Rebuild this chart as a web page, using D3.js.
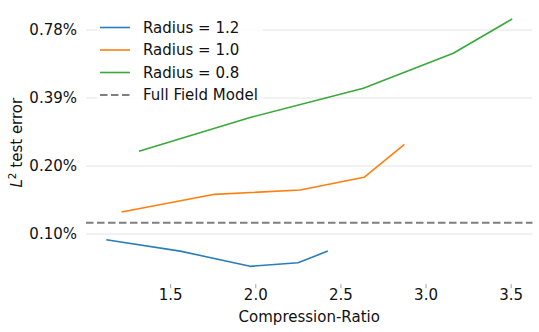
<!DOCTYPE html>
<html>
<head>
<meta charset="utf-8">
<script src="https://cdn.jsdelivr.net/npm/d3@7"></script>
<style>
  body { margin: 0; background: #fff; }
  svg { font-family: "DejaVu Sans", sans-serif; }
</style>
</head>
<body>
<svg id="chart" width="539" height="332"></svg>
<script>
// compression ratio / test error (in %)
var seriesNames = ["Radius = 1.2", "Radius = 1.0", "Radius = 0.8"];
var seriesColors = ["#2a7dba", "#ff7f0e", "#3aa83a"];
var ratio12 = [1.125, 1.559, 1.970, 2.251, 2.426];
var error12 = [0.0921, 0.0821, 0.0703, 0.0729, 0.0821];
var ratio10 = [1.215, 1.761, 2.264, 2.639, 2.876];
var error10 = [0.1222, 0.1464, 0.1529, 0.1741, 0.2437];
var ratio08 = [1.317, 1.970, 2.635, 3.163, 3.509];
var error08 = [0.2269, 0.3202, 0.4312, 0.6160, 0.8740];
var fullFieldError = 0.1096;
var fullFieldName = "Full Field Model";

var xTicks = [1.5, 2.0, 2.5, 3.0, 3.5];
var yTicks = [0.1, 0.2, 0.4, 0.8].map(function (d, i) { return 0.09765625 * Math.pow(2, i); });

var series = [
    { name: seriesNames[0], color: seriesColors[0], x: ratio12, y: error12 },
    { name: seriesNames[1], color: seriesColors[1], x: ratio10, y: error10 },
    { name: seriesNames[2], color: seriesColors[2], x: ratio08, y: error08 }
];

var svg = d3.select("#chart");
var plotLeft = 86, plotRight = 532.5, plotTop = 6.6, plotBottom = 278.7;
var fontSize = "15px";

// matplotlib style 5% margins
var allX = d3.merge(series.map(function (s) { return s.x; }));
var allY = d3.merge(series.map(function (s) { return s.y; }));
var xMin = d3.min(allX), xMax = d3.max(allX);
var xPad = (xMax - xMin) * 0.05;
var lyMin = Math.log2(d3.min(allY)), lyMax = Math.log2(d3.max(allY));
var yPad = (lyMax - lyMin) * 0.05;

var x = d3.scaleLinear().domain([xMin - xPad, xMax + xPad]).range([plotLeft, plotRight]);
var y = d3.scaleLog().base(2).domain([Math.pow(2, lyMin - yPad), Math.pow(2, lyMax + yPad)]).range([plotBottom, plotTop]);

// grid
svg.append("g").selectAll("line")
    .data(yTicks)
    .enter()
    .append("line")
    .attr("x1", plotLeft)
    .attr("x2", plotRight)
    .attr("y1", function (d) { return y(d); })
    .attr("y2", function (d) { return y(d); })
    .attr("stroke", "#e3e3e3")
    .attr("stroke-width", 1);

// y axis labels
var yAxis = d3.axisLeft(y).tickValues(yTicks).tickSize(0).tickPadding(9)
    .tickFormat(function (d) { return d3.format(".2f")(d) + "%"; });
var yg = svg.append("g").attr("transform", "translate(" + plotLeft + ",0)").call(yAxis);
yg.select(".domain").remove();
yg.selectAll("text").attr("font-size", fontSize).attr("fill", "#111").attr("font-family", "DejaVu Sans");

// x axis
var xAxis = d3.axisBottom(x).tickValues(xTicks).tickSize(0).tickPadding(0)
    .tickFormat(d3.format(".1f"));
var xg = svg.append("g").attr("transform", "translate(0," + plotBottom + ")").call(xAxis);
xg.select(".domain").remove();
xg.selectAll(".tick line").attr("y1", 5.5).attr("y2", 9.5).attr("stroke", "#888").attr("stroke-width", 0.8);
xg.selectAll("text").attr("y", 11).attr("font-size", fontSize).attr("fill", "#111").attr("font-family", "DejaVu Sans");

// axis titles
svg.append("text")
    .attr("x", (plotLeft + plotRight) / 2)
    .attr("y", 322)
    .attr("text-anchor", "middle")
    .attr("font-size", fontSize)
    .attr("fill", "#111")
    .text("Compression-Ratio");

var ylab = svg.append("text")
    .attr("transform", "translate(22," + ((plotTop + plotBottom) / 2) + ") rotate(-90)")
    .attr("text-anchor", "middle")
    .attr("font-size", fontSize)
    .attr("fill", "#111");
ylab.append("tspan").attr("font-style", "italic").text("L");
ylab.append("tspan").attr("font-size", "10.5px").attr("dy", -6).text("2");
ylab.append("tspan").attr("dy", 6).text(" test error");

// full field reference line
svg.append("line")
    .attr("x1", plotLeft)
    .attr("x2", plotRight)
    .attr("y1", y(fullFieldError))
    .attr("y2", y(fullFieldError))
    .attr("stroke", "#7f7f7f")
    .attr("stroke-width", 2)
    .attr("stroke-dasharray", "7.5,3.5");

var line = d3.line()
    .x(function (d) { return x(d[0]); })
    .y(function (d) { return y(d[1]); });

svg.append("g").selectAll("path")
    .data(series)
    .enter()
    .append("path")
    .attr("d", function (s) { return line(d3.zip(s.x, s.y)); })
    .attr("fill", "none")
    .attr("stroke", function (s) { return s.color; })
    .attr("stroke-width", 1.6)
    .attr("stroke-linejoin", "round");

// legend
var legendItems = series.map(function (s) { return { name: s.name, color: s.color, dash: null }; });
legendItems.push({ name: fullFieldName, color: "#7f7f7f", dash: "7.5,3.5" });

var legend = svg.append("g");
legend.append("rect")
    .attr("x", 97).attr("y", 15)
    .attr("width", 166).attr("height", 92)
    .attr("fill", "#fff")
    .attr("fill-opacity", 0.85);

var rows = legend.selectAll(".row")
    .data(legendItems)
    .enter()
    .append("g")
    .attr("class", "row")
    .attr("transform", function (d, i) { return "translate(0," + (27.5 + i * 22.5) + ")"; });
rows.append("line")
    .attr("x1", 100).attr("x2", 130)
    .attr("stroke", function (d) { return d.color; })
    .attr("stroke-width", function (d) { return d.dash ? 2 : 1.6; })
    .attr("stroke-dasharray", function (d) { return d.dash; });
rows.append("text")
    .attr("x", 143)
    .attr("dy", "0.36em")
    .attr("font-size", fontSize)
    .attr("fill", "#111")
    .text(function (d) { return d.name; });
</script>
</body>
</html>
